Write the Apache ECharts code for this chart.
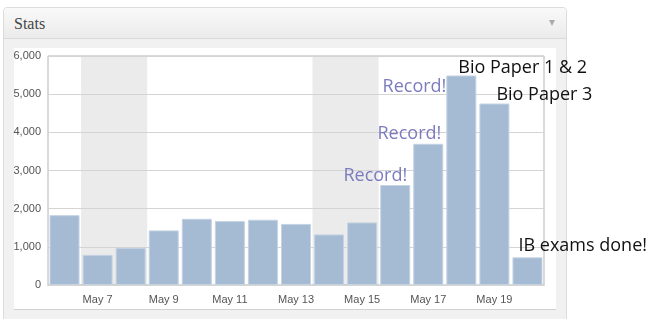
<!DOCTYPE html>
<html>
<head>
<meta charset="utf-8">
<script src="https://cdn.jsdelivr.net/npm/echarts@6/dist/echarts.min.js"></script>
<style>
  html, body { margin: 0; padding: 0; background: #fff; width: 653px; height: 319px; overflow: hidden; }
  .abs { position: absolute; box-sizing: border-box; }
  #panel { left: 3px; top: 7px; width: 564px; height: 330px; border: 1px solid #dcdcdc; border-radius: 4px 4px 0 0; background: #f1f1f1; }
  #head { left: 4px; top: 8px; width: 562px; height: 31px; background: linear-gradient(#f9f9f9, #ebebeb); border-bottom: 1px solid #dadada; border-radius: 3px 3px 0 0; }
  #title { left: 14px; top: 14px; font-family: "Liberation Serif", serif; font-size: 16px; line-height: 20px; color: #464646; }
  #tri { left: 549px; top: 20px; width: 0; height: 0; border-left: 3.5px solid transparent; border-right: 3.5px solid transparent; border-top: 6px solid #aaa; }
  #inner { left: 14px; top: 48px; width: 542px; height: 262px; background: #fff; border-bottom: 1px solid #d2d2d2; }
  #chart { left: 0; top: 0; width: 653px; height: 319px; }
</style>
</head>
<body>
<div id="panel" class="abs"></div>
<div id="head" class="abs"></div>
<div id="title" class="abs">Stats</div>
<div id="tri" class="abs"></div>
<div id="inner" class="abs"></div>
<div id="chart" class="abs"></div>
<script>
// ---- data ----
const categories = ['May 6','May 7','May 8','May 9','May 10','May 11','May 12','May 13','May 14','May 15','May 16','May 17','May 18','May 19','May 20'];
const views = [1830, 790, 975, 1430, 1735, 1675, 1710, 1600, 1325, 1640, 2620, 3700, 5490, 4755, 725];
const weekend = [0, 1, 1, 0, 0, 0, 0, 0, 1, 1, 0, 0, 0, 0, 0];
const recordNotes = ['', '', '', '', '', '', '', '', '', '', 'Record!', 'Record!', 'Record!', '', ''];
const eventNotes = ['', '', '', '', '', '', '', '', '', '', '', '', 'Bio Paper 1 & 2', 'Bio Paper 3', 'IB exams done!'];
const yTicks = [0, 1000, 2000, 3000, 4000, 5000, 6000];

// ---- label placement (styles, not data) ----
const recordPos = { 10: [27, -9], 11: [28, -10], 12: [0, 11] };
const eventPos = { 12: [12, -8], 13: [17, -9], 14: [6, -11] };
const noteFont = { fontFamily: 'Open Sans', fontSize: 18 };

const yMax = yTicks[yTicks.length - 1];
const chart = echarts.init(document.getElementById('chart'), null, { renderer: 'canvas' });

const mainData = views.map((v, i) => {
  const item = { value: v };
  if (eventNotes[i]) {
    item.label = Object.assign({
      show: true, formatter: eventNotes[i], position: eventPos[i],
      align: 'left', verticalAlign: 'middle', color: '#111'
    }, noteFont);
  }
  return item;
});
const recordData = views.map((v, i) => {
  const item = { value: v };
  if (recordNotes[i]) {
    item.label = Object.assign({
      show: true, formatter: recordNotes[i], position: recordPos[i],
      align: 'right', verticalAlign: 'middle', color: '#7b7bbf'
    }, noteFont);
  }
  return item;
});
const shadeData = weekend.map(w => w ? yMax : 0);

chart.setOption({
  animation: false,
  grid: { left: 48, top: 56, width: 496, height: 229, show: true, borderColor: '#b4b4b4', borderWidth: 1, backgroundColor: 'transparent' },
  xAxis: [{
    type: 'category',
    data: categories,
    boundaryGap: true,
    axisLine: { show: true, lineStyle: { color: '#b4b4b4', width: 1 } },
    axisTick: { show: false },
    axisLabel: {
      interval: (i) => i % 2 === 1,
      color: '#545454', fontFamily: 'Liberation Sans', fontSize: 11, margin: 9
    },
    splitLine: { show: false }
  }, {
    type: 'category',
    data: categories,
    show: false,
    boundaryGap: true
  }],
  yAxis: {
    type: 'value',
    z: 1,
    min: yTicks[0], max: yMax, interval: yTicks[1] - yTicks[0],
    axisLine: { show: false },
    axisTick: { show: false },
    axisLabel: {
      color: '#545454', fontFamily: 'Liberation Sans', fontSize: 11, margin: 7,
      formatter: (v) => v.toLocaleString('en-US')
    },
    splitLine: { show: true, lineStyle: { color: '#d4d4d4', width: 1 } }
  },
  series: [
    {
      type: 'bar', name: 'Weekend', xAxisIndex: 1, data: shadeData,
      barWidth: '100%', z: 0.5, silent: true,
      itemStyle: { color: 'rgba(110,110,110,0.14)', borderWidth: 0 }
    },
    {
      type: 'bar', name: 'Views', data: mainData, barWidth: 30, barGap: '-100%',
      itemStyle: { color: '#a5bbd4', borderColor: '#c5d3e3', borderWidth: 1 },
      z: 2
    },
    {
      type: 'bar', name: 'Records', data: recordData, barWidth: 30, barGap: '-100%',
      itemStyle: { color: 'rgba(0,0,0,0)', borderWidth: 0 },
      z: 3, silent: true
    }
  ]
});
</script>
</body>
</html>
